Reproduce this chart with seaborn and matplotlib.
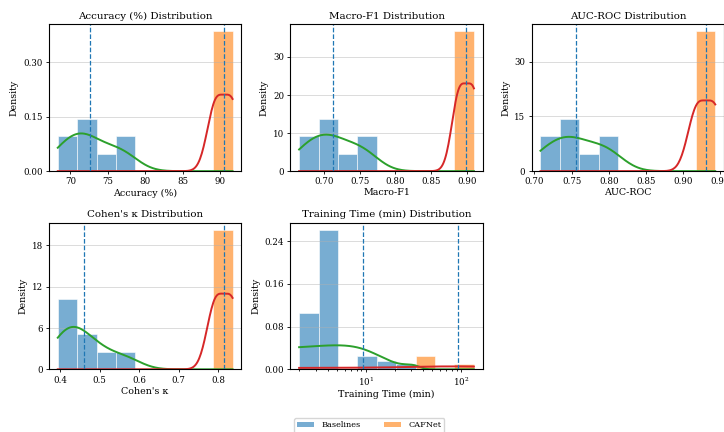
import numpy as np
import pandas as pd
import matplotlib
matplotlib.use("Agg")
import matplotlib.pyplot as plt
import seaborn as sns
from matplotlib.colors import to_rgba
from matplotlib.patches import Patch

# ---- data -------------------------------------------------------------
groups = ["Baselines", "CAFNet"]

metrics = ["Accuracy (%)", "Macro-F1", "AUC-ROC", "Cohen's κ", "Training Time (min)"]

baseline_accuracy = [68.3, 69.6, 71.0, 71.6, 72.5, 74.2, 76.2, 77.6]
cafnet_accuracy = [89.4, 91.7]

baseline_macro_f1 = [0.665, 0.680, 0.695, 0.703, 0.714, 0.730, 0.749, 0.762]
cafnet_macro_f1 = [0.889, 0.910]

baseline_auc = [0.708, 0.723, 0.739, 0.747, 0.757, 0.776, 0.794, 0.804]
cafnet_auc = [0.918, 0.943]

baseline_kappa = [0.394, 0.409, 0.424, 0.436, 0.458, 0.478, 0.517, 0.571]
cafnet_kappa = [0.793, 0.837]

baseline_time = [1.99, 3.5, 3.8, 4.2, 4.6, 10.5, 16.5, 30.0]
cafnet_time = [47.9, 136.5]

baseline_values = [baseline_accuracy, baseline_macro_f1, baseline_auc,
                   baseline_kappa, baseline_time]
cafnet_values = [cafnet_accuracy, cafnet_macro_f1, cafnet_auc,
                 cafnet_kappa, cafnet_time]

y_ticks = [
    [0.00, 0.15, 0.30],
    [0, 10, 20, 30],
    [0, 15, 30],
    [0, 6, 12, 18],
    [0.00, 0.08, 0.16, 0.24],
]
log_x = [False, False, False, False, True]

# ---- style ------------------------------------------------------------
bar_colors = {"Baselines": "#1f77b4", "CAFNet": "#ff7f0e"}
kde_colors = {"Baselines": "#2ca02c", "CAFNet": "#d62728"}
kde_bw = {"Baselines": 1.0, "CAFNet": 0.8}
mean_color = "#1f77b4"
bar_alpha = 0.6
n_bins = 9

plt.rcParams["font.family"] = ["DejaVu Serif"]
plt.rcParams["axes.linewidth"] = 0.8
plt.rcParams["xtick.major.width"] = 0.6
plt.rcParams["ytick.major.width"] = 0.6
plt.rcParams["xtick.major.size"] = 2.5
plt.rcParams["ytick.major.size"] = 2.5
plt.rcParams["xtick.minor.size"] = 1.5

fig, axes = plt.subplots(2, 3, figsize=(7.24, 4.32), dpi=100)
fig.subplots_adjust(left=0.0677, right=1.0, top=0.9437, bottom=0.1451,
                    wspace=0.255, hspace=0.35)
flat = axes.ravel()

for i, metric in enumerate(metrics):
    ax = flat[i]
    base = baseline_values[i]
    caf = cafnet_values[i]
    df = pd.DataFrame({
        "value": list(base) + list(caf),
        "group": ["Baselines"] * len(base) + ["CAFNet"] * len(caf),
    })
    lo, hi = df["value"].min(), df["value"].max()

    if log_x[i]:
        bins = np.logspace(np.log10(lo), np.log10(hi), n_bins + 1)
        bins[0], bins[-1] = lo, hi
    else:
        bins = n_bins

    # density curves, each evaluated across the full data range
    for g, vals in zip(groups, (base, caf)):
        sns.kdeplot(x=vals, color=kde_colors[g], bw_adjust=kde_bw[g],
                    cut=60, clip=(lo, hi), linewidth=1.4, ax=ax)

    sns.histplot(data=df, x="value", hue="group", hue_order=groups,
                 palette=bar_colors, bins=bins, stat="density",
                 common_norm=False, common_bins=True, alpha=bar_alpha,
                 edgecolor="white", linewidth=0.4, legend=False, ax=ax)

    if log_x[i]:
        ax.set_xscale("log")
        ax.autoscale_view()

    ax.axvline(np.mean(base), color=mean_color, ls="--", lw=0.9)
    ax.axvline(np.mean(caf), color=mean_color, ls="--", lw=0.9)

    ax.set_yticks(y_ticks[i])
    ax.grid(axis="y", color="#b0b0b0", alpha=0.45, lw=0.7)
    ax.set_title(f"{metric} Distribution", fontsize=7.4, pad=4)
    ax.set_xlabel(metric, fontsize=6.8, labelpad=1.5)
    ax.set_ylabel("Density", fontsize=6.8, labelpad=3)
    ax.tick_params(labelsize=6.2, pad=2)

flat[5].remove()

handles = [Patch(facecolor=to_rgba(bar_colors[g], bar_alpha), edgecolor="none", label=g)
           for g in groups]
fig.legend(handles=handles, loc="upper center", bbox_to_anchor=(0.51, 0.032),
           borderaxespad=0.0, ncol=2, fontsize=5.9, frameon=True,
           handlelength=2.0, handleheight=0.6, handletextpad=0.9,
           columnspacing=2.9, borderpad=0.4)

fig.savefig("out.png", dpi=100)
